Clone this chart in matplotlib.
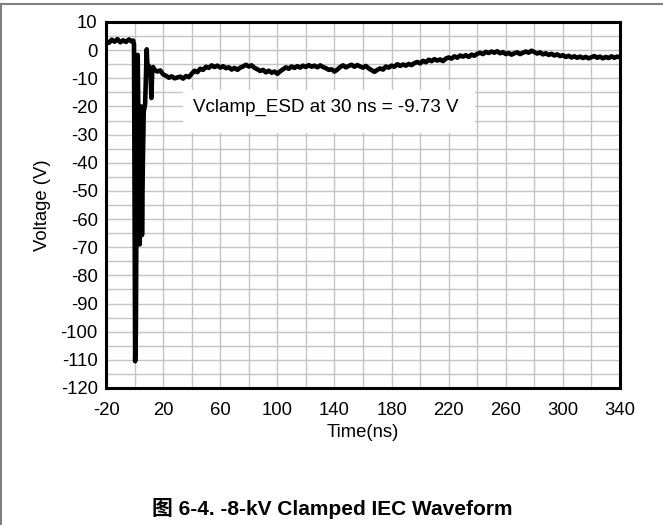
import matplotlib
matplotlib.use("Agg")
import matplotlib.pyplot as plt
from matplotlib.patches import Rectangle
from matplotlib.lines import Line2D

plt.rcParams['font.family'] = ['Liberation Sans', 'Noto Sans CJK SC']
plt.rcParams['axes.unicode_minus'] = False

# pre-trigger level (ns, V)
t_pre = [-20, -18, -16, -14, -12, -10, -8, -6, -4, -2, -1, -0.4]
v_pre = [3.2, 2.6, 3.7, 3.0, 3.9, 2.8, 3.5, 2.9, 3.8, 3.1, 3.4, 2.0]

# ESD strike and ringing
t_spike = [0.0, 0.4, 0.9, 1.5, 2.2, 2.8, 3.6, 4.2, 4.6, 5.2, 5.8, 6.4, 7.4, 8.5,
           9.2, 10.0, 11.0, 11.8, 12.4, 13.0]
v_spike = [-60, -110.5, -100, -40, -1.7, -30, -69, -45, -20, -65.7, -40, -22, -19, 0.3,
           -8, -5.6, -7, -17, -6.5, -6.0]

# clamped tail, sampled every 2 ns from 14 ns to 340 ns
t_tail = list(range(14, 341, 2))
v_tail = [
    -7.0, -7.6, -7.2, -8.6, -9.1, -9.8, -9.3, -10.0, -9.7, -9.4,   # 14-32
    -10.1, -9.2, -9.6, -8.4, -7.3, -7.8, -6.6, -7.0, -5.9, -6.3,   # 34-52
    -5.4, -6.0, -5.5, -6.2, -5.7, -6.4, -6.1, -6.9, -6.3, -7.0,    # 54-72
    -6.2, -5.8, -5.2, -5.8, -5.4, -6.3, -6.8, -7.4, -7.0, -7.9,    # 74-92
    -7.3, -8.0, -7.6, -8.4, -7.5, -6.8, -6.1, -6.6, -5.8, -6.3,    # 94-112
    -5.7, -6.2, -5.5, -6.0, -5.3, -5.9, -5.5, -6.1, -5.4, -6.0,    # 114-132
    -6.4, -7.0, -6.8, -7.6, -6.9, -6.0, -5.4, -6.1, -5.6, -5.2,    # 134-152
    -5.9, -5.3, -5.8, -6.2, -5.6, -6.5, -7.1, -7.7, -7.0, -6.5,    # 154-172
    -6.9, -5.8, -6.2, -5.5, -5.9, -5.0, -5.6, -5.1, -5.5, -4.9,    # 174-192
    -5.3, -4.6, -4.2, -4.7, -3.8, -4.3, -3.4, -3.9, -3.2, -3.7,    # 194-212
    -3.3, -3.9, -3.0, -2.6, -3.0, -2.2, -2.7, -1.9, -2.3, -1.8,    # 214-232
    -2.4, -1.6, -2.0, -1.3, -0.9, -1.4, -0.6, -1.0, -0.5, -0.9,    # 234-252
    -0.4, -1.1, -0.7, -1.4, -1.0, -1.6, -1.1, -0.8, -1.4, -0.9,    # 254-272
    -0.5, -0.9, -0.2, -0.7, -1.2, -0.8, -1.5, -1.1, -1.7, -1.3,    # 274-292
    -1.9, -1.5, -2.1, -1.8, -2.4, -2.0, -2.6, -2.2, -2.7, -2.3,    # 294-312
    -2.8, -2.4, -2.9, -2.5, -2.1, -2.7, -2.3, -2.9, -2.4, -2.8,    # 314-332
    -2.2, -2.7, -2.3, -2.5,                                        # 334-340
]

x_major = list(range(-20, 341, 40))
y_major = list(range(-120, 11, 10))
note = "Vclamp_ESD at 30 ns = -9.73 V"

t = t_pre + t_spike + t_tail
v = v_pre + v_spike + v_tail

fig = plt.figure(figsize=(6.63, 5.25), dpi=100)
ax = fig.add_axes([0.1599, 0.2610, 0.7753, 0.6971])

ax.plot(t, v, color='black', linewidth=3.3, zorder=4, solid_joinstyle='round')

ax.set_xlim(-20, 340)
ax.set_ylim(-120, 10)
ax.set_xticks(x_major)
ax.set_xticks(list(range(-20, 341, 20)), minor=True)
ax.set_yticks(y_major)
ax.set_yticks(list(range(-120, 11, 5)), minor=True)
ax.grid(which='both', color='#c4c4c4', linewidth=1.0, zorder=0)
ax.set_axisbelow(True)
ax.tick_params(which='both', length=0, labelsize=13.3)
ax.tick_params(axis='x', pad=10)
ax.tick_params(axis='y', pad=6)
for s in ax.spines.values():
    s.set_linewidth(2.2)
    s.set_zorder(5)

ax.set_xlabel('Time(ns)', fontsize=13.3, labelpad=4)
ax.set_ylabel('Voltage (V)', fontsize=13.3, labelpad=7)

# label box hides the grid behind it
ax.add_patch(Rectangle((34.0, -29.5), 204.5, 15.3, facecolor='white',
                       edgecolor='none', zorder=2))
ax.text(40.9, -22.0, note, fontsize=13.5, va='baseline', ha='left', zorder=3)

fig.text(0.501, 0.032, '图 6-4. -8-kV Clamped IEC Waveform', ha='center', va='center',
         fontsize=15, fontweight='bold')

# frame lines at top and left of the figure
fig.add_artist(Line2D([0, 1], [0.9933, 0.9933], color='#808080', linewidth=1.5))
fig.add_artist(Line2D([0.0015, 0.0015], [0, 0.9933], color='#808080', linewidth=1.5))

fig.savefig('out.png', dpi=100)
